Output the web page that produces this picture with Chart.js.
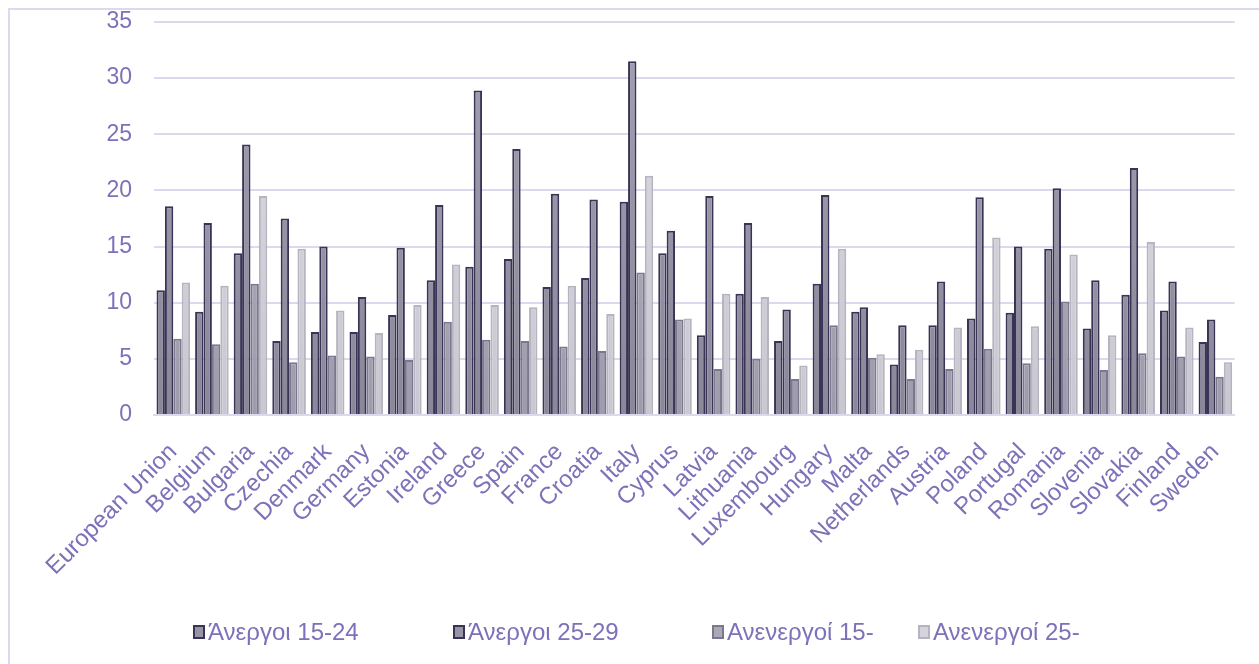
<!DOCTYPE html>
<html>
<head>
<meta charset="utf-8">
<script src="https://cdn.jsdelivr.net/npm/chart.js@4"></script>
<style>
  html, body { margin: 0; padding: 0; background: #fff; }
  #wrap { position: relative; width: 1259px; height: 664px; overflow: hidden; }
  #frame { position: absolute; left: 8px; top: 8px; width: 1400px; height: 800px;
           border-left: 2px solid #dcd9ee; border-top: 2px solid #dcd9ee; }
  canvas { position: absolute; left: 0; top: 0; }
  #legend { position: absolute; left: 0; top: 0; width: 1259px; height: 664px;
            font: 24px "Liberation Sans", Arial, sans-serif; color: #7b72b9; }
  .item { position: absolute; top: 618px; display: flex; align-items: center; white-space: nowrap; }
  .box { width: 12px; height: 14px; border: 2px solid; box-sizing: border-box; margin-right: 3px; }
</style>
</head>
<body>
<div id="wrap">
  <div id="frame"></div>
  <canvas id="chart" width="1259" height="664"></canvas>
  <div id="legend"></div>
</div>
<script>
const countries = ['European Union', 'Belgium', 'Bulgaria', 'Czechia', 'Denmark', 'Germany', 'Estonia',
  'Ireland', 'Greece', 'Spain', 'France', 'Croatia', 'Italy', 'Cyprus', 'Latvia', 'Lithuania',
  'Luxembourg', 'Hungary', 'Malta', 'Netherlands', 'Austria', 'Poland', 'Portugal', 'Romania',
  'Slovenia', 'Slovakia', 'Finland', 'Sweden'];

const unemployed1524 = [11.1, 9.2, 14.4, 6.6, 7.4, 7.4, 8.9, 12.0, 13.2, 13.9, 11.4, 12.2, 19.0, 14.4,
  7.1, 10.8, 6.6, 11.7, 9.2, 4.5, 8.0, 8.6, 9.1, 14.8, 7.7, 10.7, 9.3, 6.5];
const unemployed2529 = [18.6, 17.1, 24.1, 17.5, 15.0, 10.5, 14.9, 18.7, 28.9, 23.7, 19.7, 19.2, 31.5, 16.4,
  19.5, 17.1, 9.4, 19.6, 9.6, 8.0, 11.9, 19.4, 15.0, 20.2, 12.0, 22.0, 11.9, 8.5];
const inactive15 = [6.8, 6.3, 11.7, 4.7, 5.3, 5.2, 4.9, 8.3, 6.7, 6.6, 6.1, 5.7, 12.7, 8.5,
  4.1, 5.0, 3.2, 8.0, 5.1, 3.2, 4.1, 5.9, 4.6, 10.1, 4.0, 5.5, 5.2, 3.4];
const inactive25 = [11.8, 11.5, 19.5, 14.8, 9.3, 7.3, 9.8, 13.4, 9.8, 9.6, 11.5, 9.0, 21.3, 8.6,
  10.8, 10.5, 4.4, 14.8, 5.4, 5.8, 7.8, 15.8, 7.9, 14.3, 7.1, 15.4, 7.8, 4.7];

const seriesNames = ['Άνεργοι 15-24', 'Άνεργοι 25-29', 'Ανενεργοί 15-', 'Ανενεργοί 25-'];

const textColor = '#7b72b9';
const gridColor = '#dcd9ee';
const fontFamily = '"Liberation Sans", Arial, sans-serif';

// soft vertical shading on the bars
function barFill(top, bottom) {
  return (ctx) => {
    const area = ctx.chart.chartArea;
    if (!area) return top;
    const g = ctx.chart.ctx.createLinearGradient(0, area.top, 0, area.bottom);
    g.addColorStop(0, top);
    g.addColorStop(1, bottom);
    return g;
  };
}

const styles = [
  { fill: barFill('#a3a0b2', '#8a8799'), border: '#3a3356', swatch: '#9794a6' },
  { fill: barFill('#a3a0b2', '#8a8799'), border: '#3a3356', swatch: '#9794a6' },
  { fill: barFill('#b6b3c1', '#9e9bac'), border: '#7b778d', swatch: '#aba8b7' },
  { fill: barFill('#dcdbe2', '#c9c8d1'), border: '#b6b4c0', swatch: '#d5d4dc' },
];

const values = [unemployed1524, unemployed2529, inactive15, inactive25];

const chartConfig = {
  type: 'bar',
  data: {
    labels: countries,
    datasets: values.map((data, i) => ({
      label: seriesNames[i],
      data: data,
      backgroundColor: styles[i].fill,
      borderColor: styles[i].border,
      borderWidth: 2,
      borderSkipped: 'bottom',
      categoryPercentage: 0.87,
      barPercentage: 1.0,
    })),
  },
  options: {
    responsive: false,
    animation: {
      duration: 0,
    },
    layout: {
      padding: { top: 22, right: 15, bottom: 0, left: 0 },
    },
    plugins: {
      legend: {
        display: false,
      },
      tooltip: {
        enabled: false,
      },
    },
    scales: {
      x: {
        grid: { display: false, drawTicks: false },
        border: { color: gridColor, width: 2 },
        ticks: {
          color: textColor,
          font: { family: fontFamily, size: 24 },
          minRotation: 45,
          maxRotation: 45,
          autoSkip: false,
          padding: 23,
        },
        afterFit: (scale) => { scale.height = 249; },
      },
      y: {
        min: 0,
        max: 35,
        grid: { color: gridColor, lineWidth: 2, drawTicks: false },
        border: { display: false },
        ticks: {
          stepSize: 5,
          color: textColor,
          font: { family: fontFamily, size: 23 },
          padding: 22,
        },
        afterFit: (scale) => {
          scale.width = 154;
          // top label may overhang, the outer padding already leaves room
          scale.paddingTop = 0;
          scale.paddingBottom = 0;
        },
      },
    },
  },
};

const chart = new Chart(document.getElementById('chart'), chartConfig);

// legend row under the plot
const legendX = [193, 453, 712, 918];
const legendEl = document.getElementById('legend');
seriesNames.forEach((name, i) => {
  const item = document.createElement('div');
  item.className = 'item';
  item.style.left = legendX[i] + 'px';
  const box = document.createElement('span');
  box.className = 'box';
  box.style.background = styles[i].swatch;
  box.style.borderColor = styles[i].border;
  const text = document.createElement('span');
  text.textContent = name;
  item.appendChild(box);
  item.appendChild(text);
  legendEl.appendChild(item);
});
</script>
</body>
</html>
